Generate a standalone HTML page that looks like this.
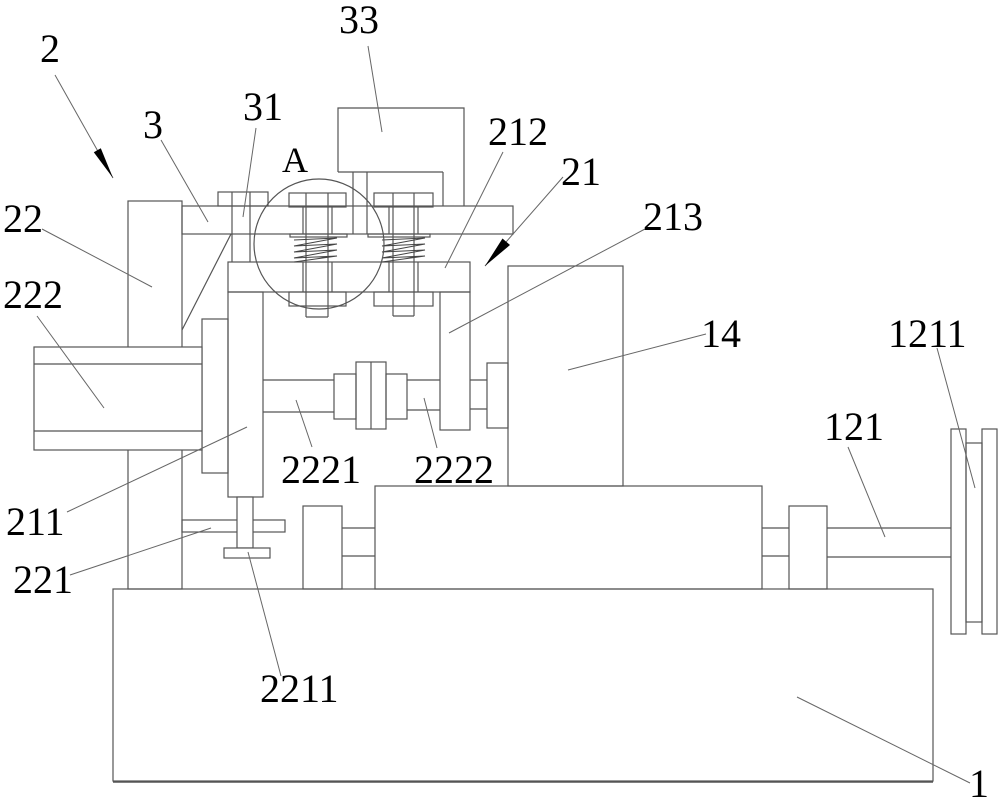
<!DOCTYPE html>
<html><head><meta charset="utf-8"><style>
html,body{margin:0;padding:0;background:#fff;}
svg{display:block;}
text{font-family:"Liberation Serif",serif;font-size:40px;fill:#000;}
</style></head><body>
<svg width="1000" height="800" viewBox="0 0 1000 800" xmlns="http://www.w3.org/2000/svg">
<rect width="1000" height="800" fill="#fff"/>
<g fill="none" stroke="#555" stroke-width="1.2">
<!-- base 1 -->
<rect x="113" y="589" width="820" height="192"/>
<line x1="113" y1="782" x2="933" y2="782" stroke-width="1.5"/>
<!-- column 22 -->
<rect x="128" y="201" width="54" height="388"/>
<!-- plate 3 -->
<rect x="182" y="206" width="331" height="28"/>
<!-- diagonal brace -->
<line x1="231" y1="234" x2="182" y2="330"/>
<!-- motor 33 -->
<polyline points="338,172 338,108 464,108 464,206"/>
<line x1="338" y1="172" x2="443" y2="172"/>
<line x1="443" y1="172" x2="443" y2="206"/>
<line x1="353" y1="172" x2="353" y2="234"/>
<line x1="367" y1="172" x2="367" y2="234"/>
<!-- bolt 31 -->
<rect x="218" y="192" width="50" height="14"/>
<line x1="232" y1="192" x2="232" y2="262"/>
<line x1="250" y1="192" x2="250" y2="262"/>
<!-- bar 212 -->
<rect x="228" y="262" width="242" height="30"/>
<!-- left leg 211 -->
<rect x="228" y="292" width="35" height="205"/>
<!-- plate behind left leg -->
<rect x="202" y="319" width="26" height="154"/>
<!-- right leg 213 -->
<rect x="440" y="292" width="30" height="138"/>
<!-- left bolt -->
<rect x="289" y="193" width="57" height="14"/>
<line x1="306" y1="193" x2="306" y2="317"/>
<line x1="328" y1="193" x2="328" y2="317"/>
<line x1="303" y1="207" x2="303" y2="234"/>
<line x1="332" y1="207" x2="332" y2="234"/>
<line x1="303" y1="262" x2="303" y2="292"/>
<line x1="332" y1="262" x2="332" y2="292"/>
<rect x="290" y="234" width="57" height="3"/>
<rect x="289" y="292" width="57" height="14"/>
<line x1="306" y1="317" x2="328" y2="317"/>
<polyline stroke="#444" stroke-width="1" points="294,240 337,238 294,246 337,244 294,252 337,250 294,258 337,256 294,262"/>
<!-- right bolt -->
<rect x="374" y="193" width="59" height="14"/>
<line x1="393" y1="193" x2="393" y2="316"/>
<line x1="414" y1="193" x2="414" y2="316"/>
<line x1="389" y1="207" x2="389" y2="234"/>
<line x1="418" y1="207" x2="418" y2="234"/>
<line x1="389" y1="262" x2="389" y2="292"/>
<line x1="418" y1="262" x2="418" y2="292"/>
<rect x="368" y="234" width="62" height="3"/>
<rect x="374" y="292" width="59" height="14"/>
<line x1="393" y1="316" x2="414" y2="316"/>
<polyline stroke="#444" stroke-width="1" points="382,240 425,238 382,246 425,244 382,252 425,250 382,258 425,256 382,262"/>
<!-- circle A -->
<circle cx="319" cy="244" r="65"/>
<!-- cylinder 222 -->
<rect x="34" y="347" width="168" height="103" fill="#fff"/>
<line x1="34" y1="364" x2="202" y2="364"/>
<line x1="34" y1="431" x2="202" y2="431"/>
<!-- shaft 2221 -->
<line x1="263" y1="380" x2="334" y2="380"/>
<line x1="263" y1="412" x2="334" y2="412"/>
<!-- coupling -->
<rect x="334" y="374" width="22" height="45"/>
<rect x="356" y="362" width="30" height="67"/>
<line x1="371" y1="362" x2="371" y2="429"/>
<rect x="386" y="374" width="21" height="45"/>
<!-- shaft 2222 -->
<line x1="407" y1="380" x2="440" y2="380"/>
<line x1="407" y1="410" x2="440" y2="410"/>
<line x1="470" y1="380" x2="487" y2="380"/>
<line x1="470" y1="409" x2="487" y2="409"/>
<rect x="487" y="363" width="21" height="65"/>
<!-- block 14 -->
<rect x="508" y="266" width="115" height="220"/>
<!-- box 12 -->
<rect x="375" y="486" width="387" height="103"/>
<!-- left support -->
<rect x="303" y="506" width="39" height="83"/>
<line x1="342" y1="528" x2="375" y2="528"/>
<line x1="342" y1="556" x2="375" y2="556"/>
<!-- right support -->
<line x1="762" y1="528" x2="789" y2="528"/>
<line x1="762" y1="556" x2="789" y2="556"/>
<rect x="789" y="506" width="38" height="83"/>
<!-- shaft 121 -->
<line x1="827" y1="528" x2="951" y2="528"/>
<line x1="827" y1="557" x2="951" y2="557"/>
<!-- flange 1211 -->
<rect x="951" y="429" width="15" height="205"/>
<rect x="966" y="443" width="16" height="179"/>
<rect x="982" y="429" width="15" height="205"/>
<!-- rod 221 -->
<rect x="182" y="520" width="103" height="12"/>
<!-- screw 2211 -->
<rect x="237" y="497" width="16" height="51" fill="#fff"/>
<rect x="224" y="548" width="46" height="10" fill="#fff"/>
</g>
<!-- leaders -->
<g stroke="#666" stroke-width="1" fill="none">
<line x1="55" y1="75" x2="113" y2="178"/>
<line x1="563" y1="177" x2="485" y2="266"/>
<line x1="368" y1="46" x2="382" y2="132"/>
<line x1="161" y1="140" x2="208" y2="222"/>
<line x1="256" y1="128" x2="243" y2="217"/>
<line x1="42" y1="229" x2="152" y2="287"/>
<line x1="37" y1="316" x2="104" y2="408"/>
<line x1="503" y1="152" x2="445" y2="268"/>
<line x1="645" y1="229" x2="449" y2="333"/>
<line x1="706" y1="334" x2="568" y2="370"/>
<line x1="937" y1="348" x2="975" y2="488"/>
<line x1="848" y1="447" x2="885" y2="537"/>
<line x1="296" y1="400" x2="312" y2="447"/>
<line x1="424" y1="398" x2="437" y2="448"/>
<line x1="67" y1="512" x2="247" y2="427"/>
<line x1="70" y1="575" x2="211" y2="528"/>
<line x1="248" y1="552" x2="281" y2="676"/>
<line x1="797" y1="697" x2="970" y2="783"/>
</g>
<!-- arrowheads -->
<polygon points="113,178 100.8,148.2 93.8,152.2" fill="#000"/>
<polygon points="485,266 510,245 502.5,238.5" fill="#000"/>
<!-- labels -->
<text x="339" y="33">33</text>
<text x="40" y="62">2</text>
<text x="243" y="120">31</text>
<text x="143" y="138">3</text>
<text x="282" y="172" style="font-size:36px">A</text>
<text x="488" y="145">212</text>
<text x="561" y="185">21</text>
<text x="3" y="232">22</text>
<text x="643" y="230">213</text>
<text x="3" y="308">222</text>
<text x="701" y="347">14</text>
<text x="888" y="347">1211</text>
<text x="824" y="440">121</text>
<text x="281" y="483">2221</text>
<text x="414" y="483">2222</text>
<text x="6" y="535">211</text>
<text x="13" y="593">221</text>
<text x="260" y="702">2211</text>
<text x="969" y="797">1</text>
</svg>
</body></html>
